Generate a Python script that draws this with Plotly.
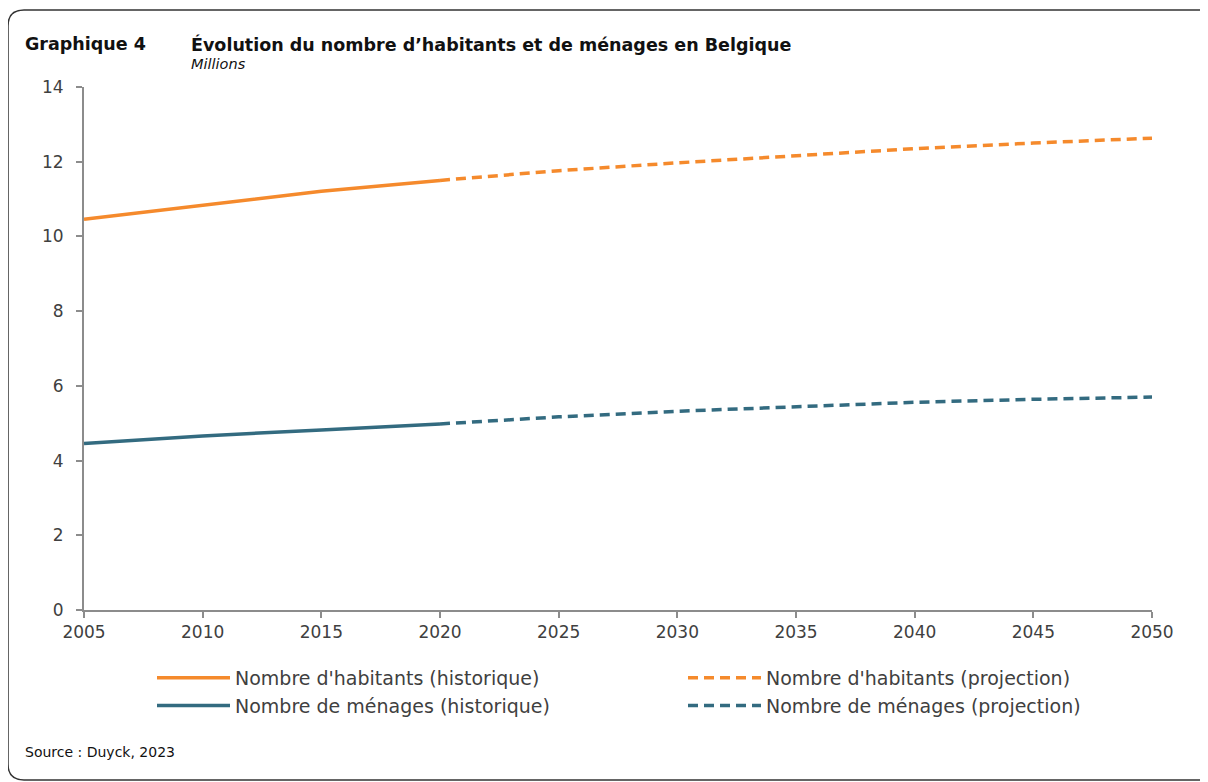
import plotly.graph_objects as go

# Data (millions)
years_hist = [2005, 2010, 2015, 2020]
hab_hist = [10.46, 10.84, 11.21, 11.50]
men_hist = [4.46, 4.66, 4.82, 4.98]

years_proj = [2020, 2025, 2030, 2035, 2040, 2045, 2050]
hab_proj = [11.50, 11.76, 11.97, 12.17, 12.35, 12.50, 12.63]
men_proj = [4.98, 5.17, 5.32, 5.45, 5.56, 5.64, 5.70]

x_ticks = list(range(2005, 2051, 5))
y_ticks = list(range(0, 15, 2))

ORANGE = "#F58A2C"
TEAL = "#336B80"
FONT = "DejaVu Sans"
TXT = "#404040"

OFF = 8  # page body margin
W, H = 1208, 782
L, R, T, B = 84 - OFF, 64, 87 - OFF, 180
PW, PH = W - L - R, H - T - B

def px(x):  # screen x -> paper
    return (x - OFF - L) / PW

def py(y):  # screen y -> paper
    return (H - B - (y - OFF)) / PH

fig = go.Figure()
fig.add_trace(go.Scatter(x=years_hist, y=hab_hist, mode="lines", name="Nombre d'habitants (historique)",
                         line=dict(color=ORANGE, width=3.5)))
fig.add_trace(go.Scatter(x=years_proj, y=hab_proj, mode="lines", name="Nombre d'habitants (projection)",
                         line=dict(color=ORANGE, width=3.5, dash="10px,6px")))
fig.add_trace(go.Scatter(x=years_hist, y=men_hist, mode="lines", name="Nombre de ménages (historique)",
                         line=dict(color=TEAL, width=3.5)))
fig.add_trace(go.Scatter(x=years_proj, y=men_proj, mode="lines", name="Nombre de ménages (projection)",
                         line=dict(color=TEAL, width=3.5, dash="10px,6px")))

fig.update_layout(
    width=W, height=H,
    margin=dict(l=L, r=R, t=T, b=B, autoexpand=False),
    paper_bgcolor="white", plot_bgcolor="white",
    font=dict(family=FONT, size=17, color=TXT),
    showlegend=True,
    legend=dict(orientation="h", x=px(152), y=py(659), xanchor="left", yanchor="top",
                entrywidth=443, entrywidthmode="pixels", itemwidth=73,
                font=dict(family=FONT, size=19, color=TXT), tracegroupgap=0,
                bgcolor="rgba(0,0,0,0)"),
)
fig.update_xaxes(range=[2005, 2050], tickvals=x_ticks, showgrid=False, zeroline=False,
                 showline=True, linecolor="#8C8C8C", linewidth=2,
                 ticks="outside", ticklen=6, tickcolor="#8C8C8C", tickwidth=2,
                 tickfont=dict(size=17, color=TXT))
fig.update_yaxes(range=[0, 14], tickvals=y_ticks, showgrid=False, zeroline=False,
                 showline=True, linecolor="#8C8C8C", linewidth=2,
                 ticks="outside", ticklen=6, tickcolor="#8C8C8C", tickwidth=2,
                 ticklabelstandoff=9,
                 tickfont=dict(size=17, color=TXT))

# Rounded border (screen coords)
x0, y0, x1, y1, r = 8, 10, 1218, 780, 16
path = (f"M {px(x0+r)},{py(y0)} L {px(x1-r)},{py(y0)} Q {px(x1)},{py(y0)} {px(x1)},{py(y0+r)} "
        f"L {px(x1)},{py(y1-r)} Q {px(x1)},{py(y1)} {px(x1-r)},{py(y1)} "
        f"L {px(x0+r)},{py(y1)} Q {px(x0)},{py(y1)} {px(x0)},{py(y1-r)} "
        f"L {px(x0)},{py(y0+r)} Q {px(x0)},{py(y0)} {px(x0+r)},{py(y0)} Z")
fig.add_shape(type="path", path=path, xref="paper", yref="paper",
              line=dict(color="#333333", width=1.5), layer="below")

fig.add_annotation(text="<b>Graphique 4</b>", xref="paper", yref="paper", x=px(23), y=py(44),
                   xanchor="left", yanchor="middle", showarrow=False,
                   font=dict(family=FONT, size=17.5, color="#111111"))
fig.add_annotation(text="<b>Évolution du nombre d’habitants et de ménages en Belgique</b>", xref="paper", yref="paper",
                   x=px(189), y=py(44), xanchor="left", yanchor="middle", showarrow=False,
                   font=dict(family=FONT, size=17.5, color="#111111"))
fig.add_annotation(text="<i>Millions</i>", xref="paper", yref="paper", x=px(189), y=py(64),
                   xanchor="left", yanchor="middle", showarrow=False,
                   font=dict(family=FONT, size=14.5, color="#111111"))
fig.add_annotation(text="Source : Duyck, 2023", xref="paper", yref="paper", x=px(23), y=py(752),
                   xanchor="left", yanchor="middle", showarrow=False,
                   font=dict(family=FONT, size=14, color="#111111"))

fig.write_html("out.html")
